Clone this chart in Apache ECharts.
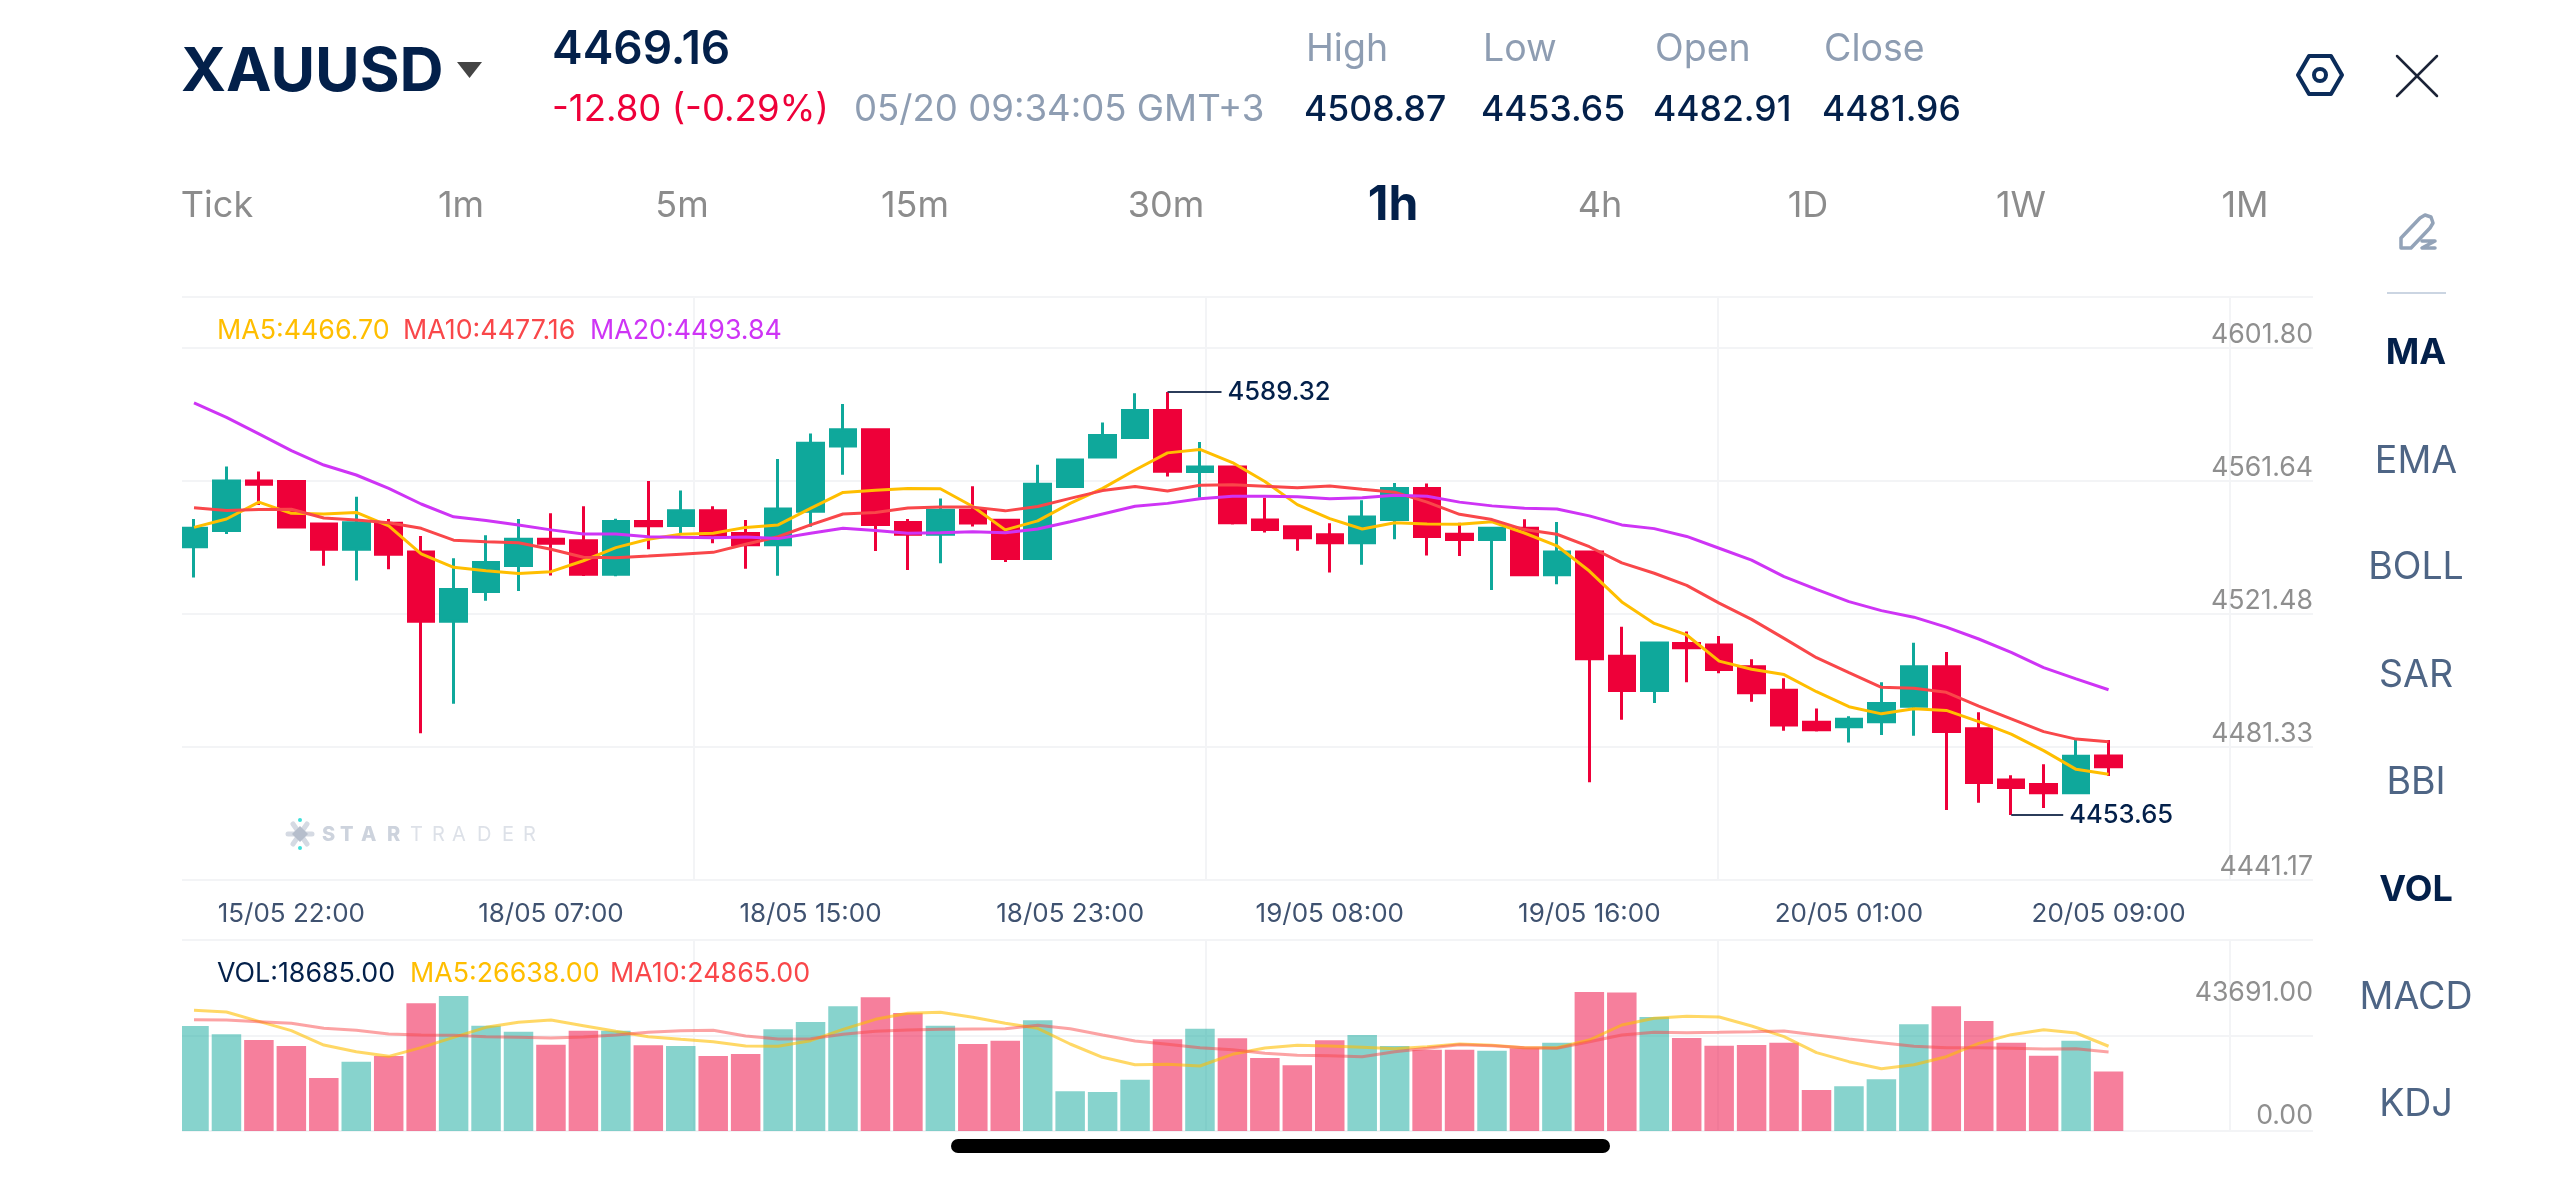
<!DOCTYPE html>
<html>
<head>
<meta charset="utf-8">
<title>XAUUSD 1h</title>
<script src="https://cdn.jsdelivr.net/npm/echarts@6/dist/echarts.min.js"></script>
<style>html,body{margin:0;padding:0;background:#fff}#chart{width:2560px;height:1177px}</style>
</head>
<body>
<div id="chart"></div>
<script>
// Hourly candles, oldest first
const opens = [4539.7,4544.9,4560.8,4560.6,4547.0,4538.9,4547.2,4538.0,4515.8,4525.3,4533.7,4542.1,4541.6,4530.9,4547.8,4546.5,4551.2,4543.9,4540.3,4551.1,4572.0,4577.2,4547.5,4543.7,4551.4,4548.2,4535.9,4559.0,4568.5,4574.7,4583.4,4563.8,4565.3,4548.3,4546.1,4543.5,4541.0,4548.4,4558.4,4543.7,4542.0,4545.6,4530.7,4538.0,4504.6,4493.6,4508.7,4508.2,4501.2,4493.7,4483.4,4482.0,4483.6,4488.5,4501.2,4481.3,4464.9,4463.4,4460.8,4472.6];
const closes = [4545.6,4560.8,4559.7,4546.0,4538.9,4547.4,4537.3,4515.8,4526.0,4534.6,4542.1,4540.8,4530.9,4547.8,4546.4,4551.2,4543.4,4540.3,4551.8,4572.9,4577.2,4546.8,4543.7,4551.4,4547.3,4535.9,4559.7,4567.5,4575.4,4583.4,4563.9,4565.3,4547.4,4545.2,4542.6,4541.0,4549.2,4558.4,4543.0,4542.0,4545.6,4530.7,4538.0,4503.8,4493.6,4508.8,4507.3,4500.3,4492.9,4482.5,4481.0,4484.4,4489.4,4501.2,4480.4,4464.1,4462.5,4460.8,4472.5,4469.16];
const lows = [4529.8,4543.8,4553.1,4545.6,4533.6,4528.9,4532.5,4479.9,4489.3,4522.4,4525.5,4530.5,4530.3,4530.2,4538.9,4543.5,4540.8,4532.6,4530.4,4546.1,4562.8,4538.3,4532.2,4534.4,4546.2,4534.8,4535.8,4558.6,4568.3,4574.7,4562.2,4555.4,4546.8,4544.3,4538.4,4531.4,4533.9,4542.1,4536.9,4536.7,4525.8,4530.3,4527.7,4464.2,4484.2,4489.6,4496.2,4499.1,4490.0,4480.7,4480.4,4476.9,4479.3,4479.1,4455.3,4457.6,4453.65,4455.9,4460.6,4466.2];
const highs = [4548.6,4565.4,4563.8,4561.0,4547.0,4555.7,4548.6,4543.1,4536.0,4543.4,4548.6,4550.4,4552.7,4548.7,4560.8,4557.7,4552.7,4548.3,4567.8,4576.0,4585.5,4577.2,4548.6,4555.2,4559.1,4548.6,4566.0,4567.5,4579.5,4588.9,4589.32,4573.3,4565.3,4555.4,4546.3,4547.2,4554.6,4560.1,4560.0,4547.4,4545.6,4548.5,4547.6,4538.0,4514.0,4509.3,4512.5,4511.1,4503.6,4497.5,4487.8,4485.3,4496.2,4508.87,4505.9,4486.6,4466.4,4469.9,4477.7,4477.7];

// Price moving averages
const ma5 = [4545.9,4548.6,4554.0,4550.4,4550.2,4550.7,4546.4,4537.4,4533.1,4532.0,4531.1,4531.7,4535.2,4539.4,4542.1,4543.7,4544.0,4545.9,4546.7,4552.0,4557.1,4557.8,4558.4,4558.3,4552.6,4545.1,4548.0,4553.6,4558.4,4564.3,4569.8,4570.9,4566.7,4560.6,4553.2,4548.7,4545.4,4547.4,4547.0,4546.9,4547.7,4544.1,4540.0,4531.9,4522.0,4515.1,4511.4,4503.0,4500.4,4498.7,4493.2,4488.4,4486.1,4487.7,4487.2,4483.6,4479.6,4474.3,4468.3,4466.70];
const ma10 = [4552.2,4551.3,4551.6,4551.7,4548.9,4548.3,4547.4,4545.6,4541.8,4541.3,4541.0,4538.9,4536.3,4536.2,4536.7,4537.3,4537.9,4540.5,4542.9,4546.7,4550.2,4550.7,4552.1,4552.4,4552.4,4551.2,4552.6,4555.2,4557.7,4559.0,4557.6,4559.4,4559.6,4559.1,4558.6,4559.2,4558.1,4557.2,4554.0,4550.1,4548.4,4545.2,4543.7,4539.7,4534.5,4531.2,4527.3,4521.6,4516.4,4510.3,4504.1,4499.3,4494.6,4494.3,4493.0,4488.6,4484.5,4480.4,4478.0,4477.16];
const ma20 = [4585.8,4581.2,4575.9,4570.5,4565.9,4562.7,4558.4,4553.4,4549.3,4548.1,4546.7,4545.1,4543.8,4543.8,4542.9,4542.7,4542.6,4542.8,4542.3,4544.0,4545.6,4544.9,4544.0,4544.2,4544.5,4544.2,4545.4,4547.7,4550.2,4552.7,4553.6,4555.1,4555.9,4555.9,4555.7,4555.1,4555.4,4556.2,4555.9,4554.0,4552.8,4552.0,4551.8,4549.6,4546.7,4545.5,4543.0,4539.2,4535.4,4530.1,4526.0,4522.1,4519.2,4517.1,4513.9,4510.1,4505.8,4500.9,4497.3,4493.84];

// Volume and its moving averages
const volumes = [33000,30381,28600,26714,16656,21790,23571,40125,42430,33105,31219,27133,31534,31534,26924,26714,23571,24200,31953,34258,39182,42011,37086,33105,27343,28390,34781,12465,12256,16132,28810,32162,29124,22942,20637,28495,30172,26714,25562,25562,25247,25981,27762,43691,43560,35829,29229,26819,27028,27762,12884,14037,16237,33524,39182,34572,27762,23676,28390,18685];
const volMa5 = [37925,37401,34467,31534,27028,24933,23466,26190,29438,32581,34153,34886,33105,31324,29648,28810,28076,26714,26609,28390,31953,35096,36982,37296,35724,33838,32267,27343,23152,20847,20952,20428,24095,26086,26924,26714,26295,25876,26505,27343,26924,26190,26190,28600,33315,35410,36039,35829,33000,29648,24619,21790,19590,20847,23361,27552,30276,31848,30800,26638];
const volMa10 = [34991,34886,34362,33838,32267,31638,30486,30172,30067,29648,29438,29229,29543,30172,31010,31534,31638,29857,28914,29019,30381,31324,31743,31953,32057,32162,33210,32162,30172,28286,27238,26190,25562,24409,23781,23676,23361,24933,25981,27133,26819,26190,25981,28076,30172,31010,30905,31010,31219,31429,30172,28914,27762,26609,26190,26190,25981,25771,25876,24865];

// Axis labels
const timeLabels = ['15/05 22:00','18/05 07:00','18/05 15:00','18/05 23:00','19/05 08:00','19/05 16:00','20/05 01:00','20/05 09:00'];
const firstLabelIndex = 3;
const labelStep = 8;
const blankSlots = 6; // empty bars kept to the right of the newest candle
const priceTicks = [4441.17,4481.33,4521.48,4561.64,4601.80];
const volumeTicks = [0,43691];

const timeframes = [['Tick',217],['1m',461],['5m',682],['15m',915],['30m',1166],['4h',1600],['1D',1808],['1W',2021],['1M',2245]];
const indicators = [['MA',351,true],['EMA',460,false],['BOLL',566,false],['SAR',674,false],['BBI',781,false],['VOL',888,true],['MACD',996,false],['KDJ',1103,false]];
const stats = [['High','4508.87',1304],['Low','4453.65',1481],['Open','4482.91',1653],['Close','4481.96',1822]];
const brandBold = [['S',322],['T',340],['A',361],['R',387]];
const brandLight = [['T',410],['R',432],['A',452],['D',477],['E',502],['R',523]];

const UP = '#0FA89B', DOWN = '#EE0039', YELLOW = '#FFBE00', RED = '#F9474A', PURPLE = '#CE34F5';
const NAVY = '#03204A', GRID = '#F3F4F6', FONT = 'Inter, "Open Sans", sans-serif';

const categories = [];
for (let i = 0; i < opens.length + blankSlots; i++) {
  const k = (i - firstLabelIndex) / labelStep;
  categories.push(Number.isInteger(k) && timeLabels[k] ? timeLabels[k] : '');
}

const candles = opens.map((o, i) => [o, closes[i], lows[i], highs[i]]);
const volumeBars = volumes.map((v, i) => ({
  value: v,
  itemStyle: { color: closes[i] >= opens[i] ? UP : DOWN, opacity: 0.5 }
}));
const last = a => a[a.length - 1];
const highIdx = highs.indexOf(Math.max(...highs));
const lowIdx = lows.indexOf(Math.min(...lows));

function txt(x, y, text, size, fill, weight, align) {
  return {
    type: 'text', x, y, z: 60, silent: true,
    style: { text, fill, font: `${weight || 400} ${size}px ${FONT}`, textAlign: align || 'left', textVerticalAlign: 'middle' }
  };
}
function stroke(shape, type, color, width, extra) {
  return Object.assign({ type, shape, z: 60, silent: true, style: { stroke: color, lineWidth: width, fill: 'none', lineCap: 'round', lineJoin: 'round' } }, extra || {});
}

const graphics = [
  // keeps the first body inside the plot's left edge
  { type: 'rect', z: 50, silent: true, shape: { x: 170, y: 297, width: 12, height: 834 }, style: { fill: '#fff' } },

  // instrument header
  txt(181, 73, 'XAUUSD', 61, NAVY, 700),
  { type: 'polygon', z: 60, silent: true, shape: { points: [[457, 62], [482, 62], [469.5, 78]] }, style: { fill: '#444' } },
  txt(552, 50, '4469.16', 46, NAVY, 600),
  txt(552, 110, '-12.80 (-0.29%)', 36.6, DOWN, 400),
  txt(854, 110, '05/20 09:34:05 GMT+3', 36.6, '#8E9DB2', 400),

  // settings and close icons
  stroke({ points: [[2298, 75], [2309, 56], [2331, 56], [2342, 75], [2331, 94], [2309, 94]] }, 'polygon', '#0B2C5A', 4),
  stroke({ cx: 2320, cy: 75, r: 6 }, 'circle', '#0B2C5A', 4),
  stroke({ x1: 2397, y1: 56, x2: 2437, y2: 96 }, 'line', '#1C2438', 2.5),
  stroke({ x1: 2437, y1: 56, x2: 2397, y2: 96 }, 'line', '#1C2438', 2.5),

  // drawing tool icon and separator
  stroke({ points: [[2401, 238], [2420, 218], [2425, 215], [2431, 217], [2433, 223], [2430, 228], [2411, 248], [2401, 248]] }, 'polygon', '#93A3B8', 3.5),
  stroke({ points: [[2422, 241], [2435, 241], [2422, 248], [2435, 248]] }, 'polyline', '#93A3B8', 3.5),
  { type: 'rect', z: 60, silent: true, shape: { x: 2387, y: 292, width: 59, height: 2 }, style: { fill: '#CBD5E2' } },

  // chart legends
  txt(217, 331, `MA5:${last(ma5).toFixed(2)}`, 26.8, YELLOW),
  txt(403, 331, `MA10:${last(ma10).toFixed(2)}`, 26.8, RED),
  txt(590, 331, `MA20:${last(ma20).toFixed(2)}`, 26.8, PURPLE),
  txt(217, 974, `VOL:${last(volumes).toFixed(2)}`, 26.8, NAVY),
  txt(410, 974, `MA5:${last(volMa5).toFixed(2)}`, 26.8, YELLOW),
  txt(610, 974, `MA10:${last(volMa10).toFixed(2)}`, 26.8, RED),

  // brand mark
  stroke({ x1: 293, y1: 824, x2: 307, y2: 844 }, 'line', '#D5DAE3', 5),
  stroke({ x1: 307, y1: 824, x2: 293, y2: 844 }, 'line', '#D5DAE3', 5),
  stroke({ x1: 288, y1: 834, x2: 312, y2: 834 }, 'line', '#D5DAE3', 5),
  { type: 'polygon', z: 60, silent: true, shape: { points: [[300, 826], [308, 834], [300, 842], [292, 834]] }, style: { fill: '#B6BECC' } },
  { type: 'circle', z: 60, silent: true, shape: { cx: 300, cy: 820, r: 2 }, style: { fill: '#3FE0DA' } },
  { type: 'circle', z: 60, silent: true, shape: { cx: 300, cy: 848, r: 2 }, style: { fill: '#3FE0DA' } },

  // gesture bar
  { type: 'rect', z: 60, silent: true, shape: { x: 951, y: 1139, width: 659, height: 14, r: 7 }, style: { fill: '#000' } },

  // active timeframe
  txt(1393, 206, '1h', 48, NAVY, 700, 'center')
];
brandBold.forEach(([ch, x]) => graphics.push(txt(x, 835, ch, 20, '#CDD3DD', 800)));
brandLight.forEach(([ch, x]) => graphics.push(txt(x, 835, ch, 20, '#DDE1E8', 400)));
stats.forEach(([name, value, x]) => {
  graphics.push(txt(x + 2, 50, name, 37.5, '#8E9DB2'));
  graphics.push(txt(x, 110, value, 35.5, NAVY, 500));
});
timeframes.forEach(([name, x]) => graphics.push(txt(x, 206, name, 36, '#8C8C8C', 400, 'center')));
indicators.forEach(([name, y, active]) => graphics.push(txt(2416, y + 2, name, active ? 36 : 37.5, active ? NAVY : '#4E6585', active ? 700 : 400, 'center')));

const gridLine = { show: true, lineStyle: { color: GRID, width: 2 } };
const hidden = { axisLine: { show: false }, axisTick: { show: false }, axisLabel: { show: false }, splitLine: { show: false } };
const plotLeft = 177.78, plotWidth = categories.length * 32.45;
const dividerAxis = {
  type: 'value', min: 0, max: 4.162,
  axisLine: { show: false }, axisLabel: { show: false },
  axisTick: { show: false, customValues: [1, 2, 3, 4] }, splitLine: gridLine
};

const option = {
  animation: false,
  backgroundColor: '#fff',
  textStyle: { fontFamily: FONT },
  grid: [
    { left: 182, width: 2131, top: 297, height: 583 },
    { left: plotLeft, width: plotWidth, top: 297, height: 583 },
    { left: 182, width: 2131, top: 940, height: 191 },
    { left: plotLeft, width: plotWidth, top: 940, height: 191 }
  ],
  xAxis: [
    Object.assign({ gridIndex: 0 }, dividerAxis),
    {
      gridIndex: 1, type: 'category', data: categories, boundaryGap: true,
      axisLine: { show: false }, axisTick: { show: false }, splitLine: { show: false },
      axisLabel: {
        color: '#3F5270', fontSize: 26, fontFamily: FONT, margin: 21, hideOverlap: false,
        interval: (i, v) => v !== ''
      }
    },
    Object.assign({ gridIndex: 2 }, dividerAxis),
    Object.assign({ gridIndex: 3, type: 'category', data: categories, boundaryGap: true }, hidden)
  ],
  yAxis: [
    // printed price rungs and their rules
    {
      gridIndex: 0, type: 'value', position: 'right', min: 4441.17, max: 4617.2,
      axisLine: { show: false },
      axisTick: { show: false, customValues: [...priceTicks, 4617.2] },
      splitLine: gridLine,
      axisLabel: {
        inside: true, margin: 0, color: '#8F8F8F', fontSize: 26.7, fontFamily: FONT,
        verticalAlign: 'bottom', hideOverlap: false,
        showMinLabel: true, showMaxLabel: true,
        customValues: priceTicks,
        formatter: v => v.toFixed(2)
      }
    },
    // candle scale
    Object.assign({ gridIndex: 1, type: 'value', min: 4432.81, max: 4619.79 }, hidden),
    // volume panel rules
    {
      gridIndex: 2, type: 'value', position: 'right', min: 0, max: 2,
      axisLine: { show: false }, axisLabel: { show: false },
      axisTick: { show: false, customValues: [0, 1, 2] }, splitLine: gridLine
    },
    Object.assign({ gridIndex: 3, type: 'value', min: 0, max: 60031 }, hidden),
    // volume scale labels
    {
      gridIndex: 2, type: 'value', position: 'right', min: 0, max: 60031,
      axisLine: { show: false }, axisTick: { show: false, customValues: volumeTicks }, splitLine: { show: false },
      axisLabel: {
        inside: true, margin: 0, hideOverlap: false, verticalAlign: 'middle',
        color: '#8F8F8F', fontSize: 26.7, fontFamily: FONT,
        customValues: volumeTicks,
        formatter: v => (v === 0 ? `{floor|${v.toFixed(2)}}` : `{top|${v.toFixed(2)}}`),
        rich: {
          top: { color: '#8F8F8F', fontSize: 26.7, fontFamily: FONT, padding: [2, 0, 0, 0] },
          floor: { color: '#8F8F8F', fontSize: 26.7, fontFamily: FONT, padding: [0, 0, 30, 0] }
        }
      }
    }
  ],
  series: [
    {
      type: 'candlestick', name: 'XAUUSD', xAxisIndex: 1, yAxisIndex: 1, data: candles, barWidth: 26,
      itemStyle: { color: UP, color0: DOWN, borderColor: UP, borderColor0: DOWN, borderWidth: 3 },
      markPoint: {
        symbol: 'rect',
        silent: true,
        itemStyle: { color: '#2B3C5A' },
        label: { show: true, position: 'right', distance: 6, color: NAVY, fontSize: 25.6, fontFamily: FONT, fontWeight: 500, formatter: p => p.value.toFixed(2) },
        data: [
          { coord: [highIdx, highs[highIdx]], value: highs[highIdx], symbolSize: [54, 2], symbolOffset: [27, 0] },
          { coord: [lowIdx, lows[lowIdx]], value: lows[lowIdx], symbolSize: [52, 2], symbolOffset: [26, 0] }
        ]
      }
    },
    { type: 'line', name: 'MA5', xAxisIndex: 1, yAxisIndex: 1, data: ma5, showSymbol: false, symbol: 'none', lineStyle: { color: YELLOW, width: 3 } },
    { type: 'line', name: 'MA10', xAxisIndex: 1, yAxisIndex: 1, data: ma10, showSymbol: false, symbol: 'none', lineStyle: { color: RED, width: 3 } },
    { type: 'line', name: 'MA20', xAxisIndex: 1, yAxisIndex: 1, data: ma20, showSymbol: false, symbol: 'none', lineStyle: { color: PURPLE, width: 3 } },
    { type: 'bar', name: 'VOL', xAxisIndex: 3, yAxisIndex: 3, data: volumeBars, barWidth: 29.5 },
    { type: 'line', name: 'VOL MA5', xAxisIndex: 3, yAxisIndex: 3, data: volMa5, showSymbol: false, symbol: 'none', lineStyle: { color: YELLOW, width: 3, opacity: 0.6 } },
    { type: 'line', name: 'VOL MA10', xAxisIndex: 3, yAxisIndex: 3, data: volMa10, showSymbol: false, symbol: 'none', lineStyle: { color: RED, width: 3, opacity: 0.5 } }
  ],
  graphic: graphics
};

const chart = echarts.init(document.getElementById('chart'), null, { renderer: 'canvas', width: 2560, height: 1177 });
chart.setOption(option);
</script>
</body>
</html>
